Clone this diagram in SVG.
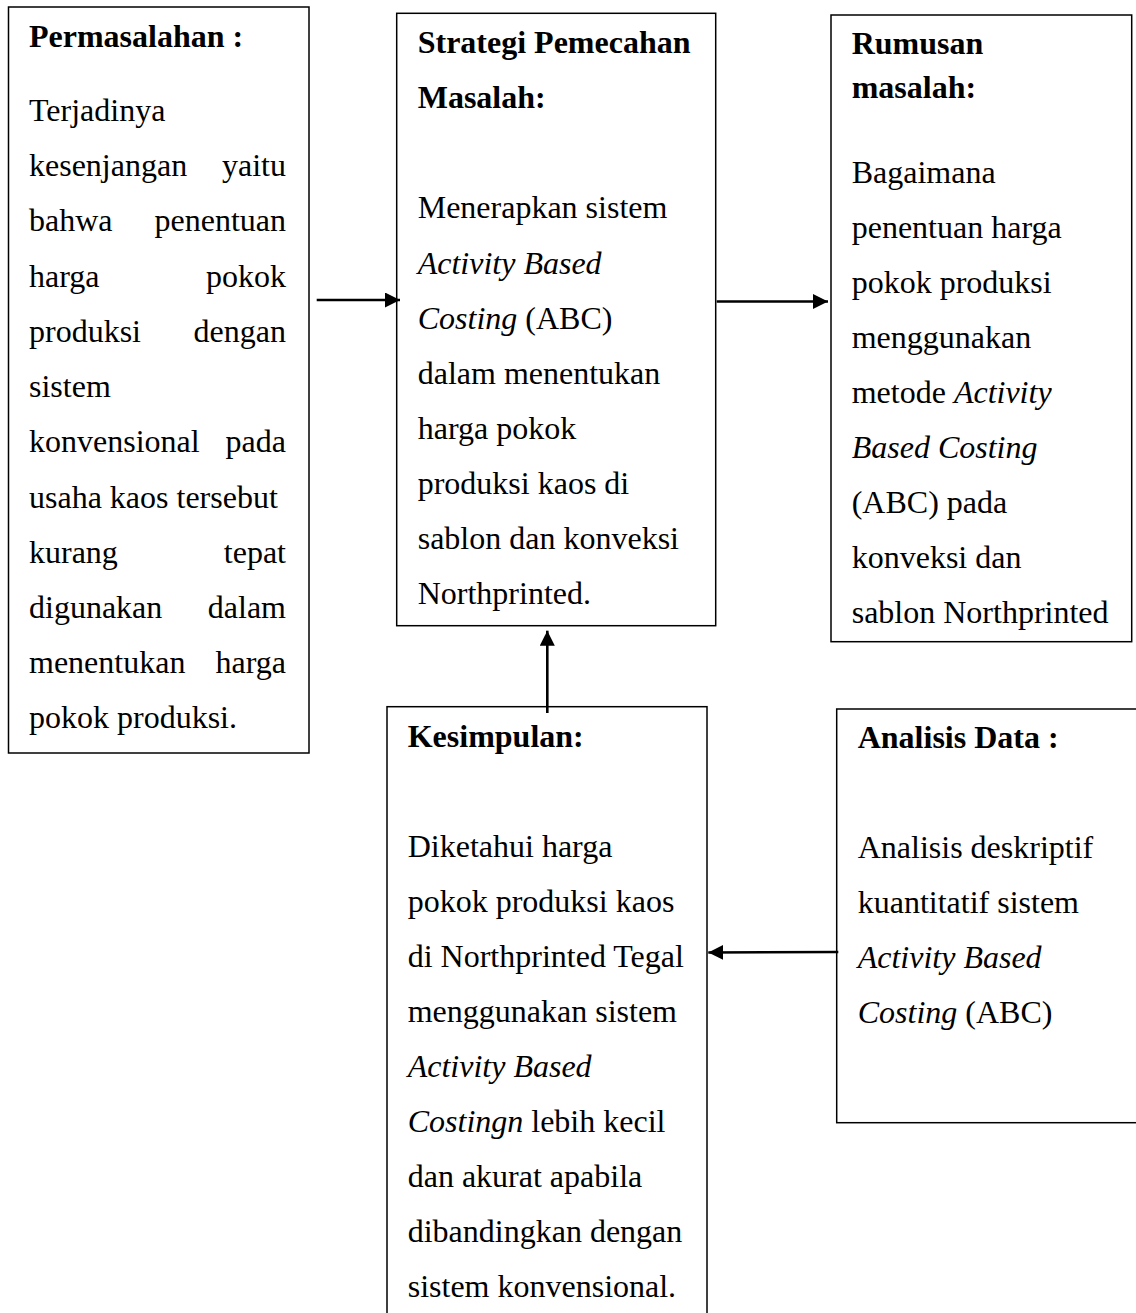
<svg xmlns="http://www.w3.org/2000/svg" width="1136" height="1313" viewBox="0 0 1136 1313">
<style>
  .box { fill: #ffffff; stroke: #000000; stroke-width: 1.5; }
  text { font-family: "Liberation Serif", "Times New Roman", serif; font-size: 32px; fill: #000000; }
  .h { font-weight: bold; }
  .i { font-style: italic; }
  .end { text-anchor: end; }
  .conn { stroke: #000000; stroke-width: 2.6; fill: none; }
</style>
<defs>
  <marker id="arrow" markerUnits="userSpaceOnUse" markerWidth="16" markerHeight="16" refX="15" refY="7.5" orient="auto">
    <path d="M0,0 L15,7.5 L0,15 Z" fill="#000000"/>
  </marker>
</defs>
<rect width="1136" height="1313" fill="#ffffff"/>

<g id="permasalahan">
  <rect class="box" x="8.5" y="7" width="300.5" height="746"/>
  <text class="h" x="29" y="46.7">Permasalahan :</text>
  <text x="29" y="120.7">Terjadinya</text>
  <text x="29" y="176">kesenjangan</text><text class="end" x="286" y="176">yaitu</text>
  <text x="29" y="231">bahwa</text><text class="end" x="286" y="231">penentuan</text>
  <text x="29" y="286.5">harga</text><text class="end" x="286" y="286.5">pokok</text>
  <text x="29" y="342">produksi</text><text class="end" x="286" y="342">dengan</text>
  <text x="29" y="397">sistem</text>
  <text x="29" y="452">konvensional</text><text class="end" x="286" y="452">pada</text>
  <text x="29" y="507.5">usaha kaos tersebut</text>
  <text x="29" y="563">kurang</text><text class="end" x="286" y="563">tepat</text>
  <text x="29" y="618">digunakan</text><text class="end" x="286" y="618">dalam</text>
  <text x="29" y="673">menentukan</text><text class="end" x="286" y="673">harga</text>
  <text x="29" y="728">pokok produksi.</text>
</g>

<g id="strategi">
  <rect class="box" x="396.7" y="13.3" width="319" height="612.4"/>
  <text class="h" x="417.7" y="53.3">Strategi Pemecahan</text>
  <text class="h" x="417.7" y="108.3">Masalah:</text>
  <text x="417.7" y="218.3">Menerapkan sistem</text>
  <text x="417.7" y="273.5"><tspan class="i">Activity Based</tspan></text>
  <text x="417.7" y="328.5"><tspan class="i">Costing</tspan> (ABC)</text>
  <text x="417.7" y="383.5">dalam menentukan</text>
  <text x="417.7" y="438.7">harga pokok</text>
  <text x="417.7" y="494">produksi kaos di</text>
  <text x="417.7" y="549">sablon dan konveksi</text>
  <text x="417.7" y="604">Northprinted.</text>
</g>

<g id="rumusan">
  <rect class="box" x="831" y="15" width="300.7" height="626.7"/>
  <text class="h" x="851.7" y="54.3">Rumusan</text>
  <text class="h" x="851.7" y="98.3">masalah:</text>
  <text x="851.7" y="182.7">Bagaimana</text>
  <text x="851.7" y="237.7">penentuan harga</text>
  <text x="851.7" y="292.7">pokok produksi</text>
  <text x="851.7" y="347.7">menggunakan</text>
  <text x="851.7" y="402.7">metode <tspan class="i">Activity</tspan></text>
  <text x="851.7" y="457.5"><tspan class="i">Based Costing</tspan></text>
  <text x="851.7" y="513">(ABC) pada</text>
  <text x="851.7" y="568">konveksi dan</text>
  <text x="851.7" y="622.5">sablon Northprinted</text>
</g>

<g id="kesimpulan">
  <rect class="box" x="387" y="706.7" width="320" height="620"/>
  <text class="h" x="407.7" y="746.7">Kesimpulan:</text>
  <text x="407.7" y="856.7">Diketahui harga</text>
  <text x="407.7" y="911.7">pokok produksi kaos</text>
  <text x="407.7" y="966.7">di Northprinted Tegal</text>
  <text x="407.7" y="1021.7">menggunakan sistem</text>
  <text x="407.7" y="1076.7"><tspan class="i">Activity Based</tspan></text>
  <text x="407.7" y="1131.7"><tspan class="i">Costingn</tspan> lebih kecil</text>
  <text x="407.7" y="1186.7">dan akurat apabila</text>
  <text x="407.7" y="1241.7">dibandingkan dengan</text>
  <text x="407.7" y="1296.7">sistem konvensional.</text>
</g>

<g id="analisis">
  <rect class="box" x="836.7" y="709" width="310" height="413.7"/>
  <text class="h" x="857.7" y="748">Analisis Data :</text>
  <text x="857.7" y="858">Analisis deskriptif</text>
  <text x="857.7" y="913">kuantitatif sistem</text>
  <text x="857.7" y="968"><tspan class="i">Activity Based</tspan></text>
  <text x="857.7" y="1023"><tspan class="i">Costing</tspan> (ABC)</text>
</g>

<g id="connectors">
  <line class="conn" x1="316.7" y1="300" x2="400" y2="300" marker-end="url(#arrow)"/>
  <line class="conn" x1="716.7" y1="301.5" x2="828" y2="301.5" marker-end="url(#arrow)"/>
  <line class="conn" x1="547.3" y1="713" x2="547.3" y2="630.7" marker-end="url(#arrow)"/>
  <line class="conn" x1="838.3" y1="952" x2="708.3" y2="952.5" marker-end="url(#arrow)"/>
</g>
</svg>
